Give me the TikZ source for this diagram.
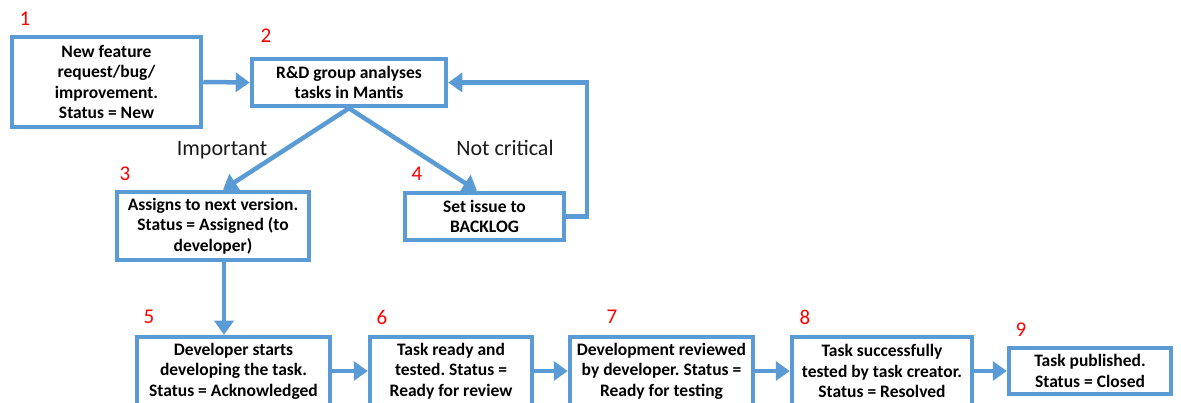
\documentclass[tikz,border=0pt]{standalone}
\usepackage{fontspec}
\setmainfont{Carlito}
\usetikzlibrary{arrows.meta}
\definecolor{flowblue}{HTML}{5B9BD5}
\definecolor{numred}{HTML}{FF0000}
\definecolor{labelgray}{HTML}{1A1A1A}
\frenchspacing

\begin{document}
\begin{tikzpicture}[x=1pt,y=-1pt,
  box/.style={draw=flowblue, line width=4.5pt, fill=white, align=center,
    inner sep=0pt, text=black,
    font=\fontsize{17.5}{20.5}\selectfont\bfseries},
  arr/.style={draw=flowblue, line width=4.5pt,
    -{Triangle[length=14pt,width=19pt]}},
  num/.style={text=numred, font=\fontsize{21}{24}\selectfont},
  branch/.style={text=labelgray, font=\fontsize{22}{26}\selectfont}
]
\path[use as bounding box, clip] (0,0) rectangle (1181,403);
\fill[white] (0,0) rectangle (1181,403);

% process boxes
\node[box, minimum width=189pt, minimum height=90pt] (b1) at (106.5,82)
  {New feature\\request/bug/\\improvement.\\Status = New};
\node[box, minimum width=194pt, minimum height=47pt] (b2) at (349,82.5)
  {R\&D group analyses\\tasks in Mantis};
\node[box, minimum width=192pt, minimum height=68pt] (b3) at (213,226)
  {Assigns to next version.\\Status = Assigned (to\\developer)};
\node[box, minimum width=159pt, minimum height=47pt] (b4) at (484.5,216.5)
  {Set issue to\\BACKLOG};
\node[box, minimum width=193pt, minimum height=68pt] (b5) at (233.5,371)
  {Developer starts\\developing the task.\\Status = Acknowledged};
\node[box, minimum width=162pt, minimum height=68pt] (b6) at (451,371)
  {Task ready and\\tested. Status =\\Ready for review};
\node[box, minimum width=183pt, minimum height=68pt] (b7) at (661.5,371)
  {Development reviewed\\by developer. Status =\\Ready for testing};
\node[box, minimum width=180pt, minimum height=68pt] (b8) at (882,371)
  {Task successfully\\tested by task creator.\\Status = Resolved};
\node[box, minimum width=162pt, minimum height=46pt] (b9) at (1090,371)
  {Task published.\\Status = Closed};

% step numbers
\node[num] (n1) at (25,19) {1};
\node[num] (n2) at (266,36) {2};
\node[num] (n3) at (125,174) {3};
\node[num] (n4) at (417,174) {4};
\node[num] (n5) at (149,317) {5};
\node[num] (n6) at (382,317) {6};
\node[num] (n7) at (612,317) {7};
\node[num] (n8) at (805,317) {8};
\node[num] (n9) at (1021,330) {9};

% branch labels
\node[branch] (limp) at (222,150) {Important};
\node[branch] (lnot) at (505,148) {Not critical};

% helper x positions for connectors
\coordinate (x23) at (223,0);
\coordinate (x24) at (477,0);
\coordinate (x35) at (224,0);
\coordinate (loopx) at (587,0);

% connectors
\draw[arr] (b1.east) -- (b2.west);
\draw[arr] (b2.south) -- (b3.north -| x23);
\draw[arr] (b2.south) -- (b4.north -| x24);
\draw[arr] (b4.east) -- (b4.east -| loopx) -- (b2.east -| loopx) -- (b2.east);
\draw[arr] (b3.south -| x35) -- (b5.north -| x35);
\draw[arr] (b5.east) -- (b6.west);
\draw[arr] (b6.east) -- (b7.west);
\draw[arr] (b7.east) -- (b8.west);
\draw[arr] (b8.east) -- (b9.west);
\end{tikzpicture}
\end{document}
